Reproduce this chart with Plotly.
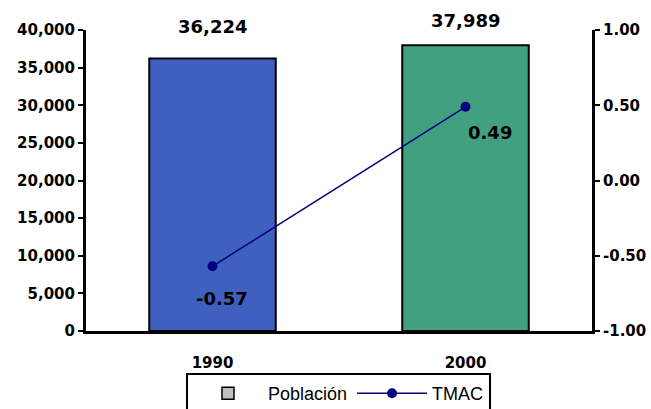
import plotly.graph_objects as go

years = ["1990", "2000"]
poblacion = [36224, 37989]
tmac = [-0.57, 0.49]
bar_colors = ["#4060C0", "#40A080"]
pop_labels = ["36,224", "37,989"]
tmac_labels = ["-0.57", "0.49"]
y2_ticks = [-1.0, -0.5, 0.0, 0.5, 1.0]
y2_ticktext = ["-1.00", "-0.50", "0.00", "0.50", "1.00"]

tickfont = dict(family="DejaVu Sans", size=15, color="black", weight="bold")
labelfont = dict(family="DejaVu Sans", size=18, color="black", weight="bold")

fig = go.Figure()
fig.add_trace(go.Bar(x=years, y=poblacion, marker=dict(color=bar_colors, line=dict(color="black", width=2)),
                     width=0.5, showlegend=False, yaxis="y"))
fig.add_trace(go.Bar(x=[years[0]], y=[None], name="Población",
                     marker=dict(color="#C0C0C0", line=dict(color="black", width=1.5))))
fig.add_trace(go.Scatter(x=years, y=tmac, name="TMAC", yaxis="y2", mode="lines+markers",
                         line=dict(color="#000080", width=1.5),
                         marker=dict(symbol="circle", size=10, color="#000080")))

pop_shift = [32, 25]
for i in range(len(years)):
    fig.add_annotation(x=i, y=poblacion[i], xref="x", yref="y", text=pop_labels[i], showarrow=False,
                       yshift=pop_shift[i], font=labelfont)
offsets = [(9, -32), (24, -26)]
for i in range(len(years)):
    fig.add_annotation(x=i, y=tmac[i], xref="x", yref="y2", text=tmac_labels[i], showarrow=False,
                       xshift=offsets[i][0], yshift=offsets[i][1], font=labelfont)

fig.update_layout(
    width=651, height=409,
    margin=dict(l=86, r=59, t=30, b=78),
    paper_bgcolor="white", plot_bgcolor="white",
    barmode="overlay",
    xaxis=dict(type="category", categoryorder="array", categoryarray=years, range=[-0.5, 1.5],
               showline=True, linecolor="black", linewidth=3, ticks="", ticklabelstandoff=16,
               tickfont=tickfont, showgrid=False, zeroline=False, automargin=False),
    yaxis=dict(range=[0, 40000], dtick=5000, tickformat=",", showline=True, linecolor="black", linewidth=3,
               ticks="outside", ticklen=5, tickwidth=2, tickcolor="black", tickfont=tickfont,
               showgrid=False, zeroline=False, automargin=False),
    yaxis2=dict(range=[-1, 1], tickvals=y2_ticks, ticktext=y2_ticktext, overlaying="y", side="right",
                showline=True, linecolor="black", linewidth=3, ticks="outside", ticklen=5, tickwidth=2,
                tickcolor="black", tickfont=tickfont, showgrid=False, zeroline=False, automargin=False),
    legend=dict(orientation="h", x=0.499, xanchor="center", y=0.088, yanchor="top", yref="container",
                bordercolor="black", borderwidth=2, bgcolor="white", itemwidth=70,
                font=dict(family="Liberation Sans", size=18, color="black")),
)

fig.write_html("out.html", post_script="document.body.style.margin='0';",
               config={"displayModeBar": False})
